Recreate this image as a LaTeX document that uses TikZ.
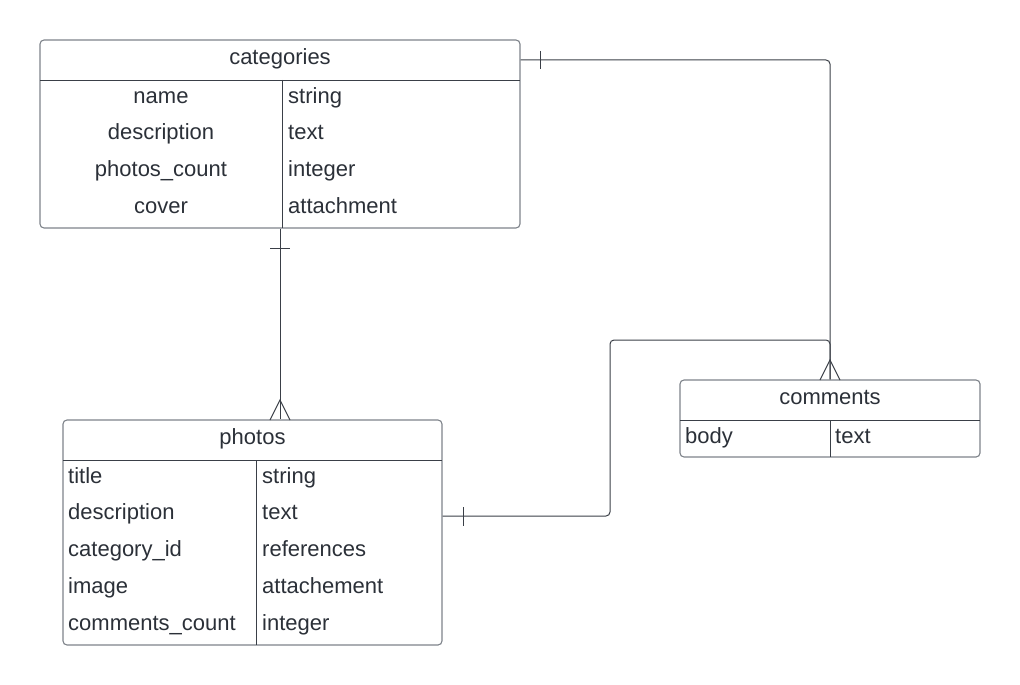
\documentclass[tikz,border=0pt]{standalone}
\usepackage{fontspec}
\setmainfont{Liberation Sans}
\definecolor{txt}{HTML}{2B3038}
\definecolor{ln}{HTML}{3A3F47}
\definecolor{bd}{HTML}{7E838A}
\begin{document}
\begin{tikzpicture}[x=1pt,y=-1pt,
  tbl/.style={draw=bd, line width=1.1pt, rounded corners=4pt, rectangle, inner sep=0pt},
  inner/.style={draw=ln, line width=0.9pt},
  conn/.style={draw=ln, line width=1pt},
  lbl/.style={text=txt, font=\fontsize{22}{26}\selectfont, inner sep=0pt, text height=0.72em, text depth=0.22em, yshift=-5pt},
  lft/.style={lbl, anchor=west},
  ctr/.style={lbl, anchor=center}]
\useasboundingbox (0,0) rectangle (1020,685);

% categories
\node[tbl, minimum width=480pt, minimum height=188pt] (cat) at (280,134) {};
\draw[inner] (40,80) -- (520,80);
\draw[inner] (282,80) -- (282,228);
\node[ctr] (catT) at (280,57) {categories};
\node[ctr] (c1a) at (161,96) {name};
\node[lft] (c1b) at (288,96) {string};
\node[ctr] (c2a) at (161,132) {description};
\node[lft] (c2b) at (288,132) {text};
\node[ctr] (c3a) at (161,169) {photos\_count};
\node[lft] (c3b) at (288,169) {integer};
\node[ctr] (c4a) at (161,206) {cover};
\node[lft] (c4b) at (288,206) {attachment};

% photos
\node[tbl, minimum width=379pt, minimum height=225pt] (pho) at (252.5,532.5) {};
\draw[inner] (63,460) -- (442,460);
\draw[inner] (256,460) -- (256,645);
\node[ctr] (phoT) at (252.5,437) {photos};
\node[lft] (p1a) at (68,476) {title};
\node[lft] (p1b) at (262,476) {string};
\node[lft] (p2a) at (68,512) {description};
\node[lft] (p2b) at (262,512) {text};
\node[lft] (p3a) at (68,549) {category\_id};
\node[lft] (p3b) at (262,549) {references};
\node[lft] (p4a) at (68,586) {image};
\node[lft] (p4b) at (262,586) {attachement};
\node[lft] (p5a) at (68,623) {comments\_count};
\node[lft] (p5b) at (262,623) {integer};

% comments
\node[tbl, minimum width=300pt, minimum height=77pt] (com) at (830,418.5) {};
\draw[inner] (680,420) -- (980,420);
\draw[inner] (830,420) -- (830,457);
\node[ctr] (comT) at (830,397) {comments};
\node[lft] (m1a) at (685,436) {body};
\node[lft] (m1b) at (835,436) {text};

% connectors
\draw[conn, rounded corners=4pt] (cat.east |- 0,60) -| (com.north);
\draw[conn] (540,51) -- (540,69);
\draw[conn] (cat.south) -- (pho.north -| cat.south);
\draw[conn] (270,248) -- (290,248);
\draw[conn] (270,420) -- (280,400) -- (290,420);
\draw[conn, rounded corners=4pt] (pho.east |- 0,516) -- (610,516) -- (610,340) -- (830,340) -- (com.north);
\draw[conn] (463,507) -- (463,526);
\draw[conn] (820,380) -- (830,360) -- (840,380);
\end{tikzpicture}
\end{document}
